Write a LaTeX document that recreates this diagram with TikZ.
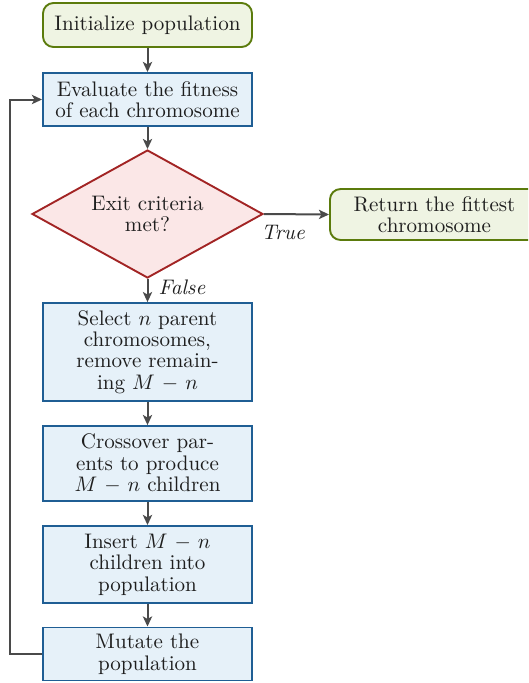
\documentclass[tikz,border=0pt]{standalone}
\usetikzlibrary{shapes.geometric,arrows.meta}
\definecolor{termline}{HTML}{5B7B0C}
\definecolor{termfill}{HTML}{EFF4E3}
\definecolor{procline}{HTML}{1F5E94}
\definecolor{procfill}{HTML}{E6F1F9}
\definecolor{decline}{HTML}{A22424}
\definecolor{decfill}{HTML}{FBE7E7}
\definecolor{arrowgray}{HTML}{4A4A4A}
\definecolor{inkgray}{HTML}{1E1E1E}
\tikzset{
  base/.style={font=\fontsize{10}{10.2}\selectfont, text=inkgray, align=center,
    line width=0.9pt, inner sep=0pt},
  term/.style={base, draw=termline, fill=termfill, rounded corners=5pt,
    minimum width=99.3pt},
  proc/.style={base, draw=procline, fill=procfill, minimum width=99.3pt},
  decision/.style={base, shape=diamond, aspect=1.8, draw=decline, fill=decfill,
    minimum width=109.7pt, minimum height=60.8pt},
  arr/.style={draw=arrowgray, line width=0.95pt,
    -{Stealth[length=4.8pt, width=4.4pt, inset=1.2pt]}},
  edgelabel/.style={font=\fontsize{10}{10}\selectfont\itshape, text=inkgray, inner sep=1pt}
}
\begin{document}
\begin{tikzpicture}[x=0.475pt, y=-0.475pt]
  \path[use as bounding box] (0,0) rectangle (528,683);
  \clip (0,0) rectangle (528,683);

  % main column
  \node[term, minimum height=20.9pt] (init) at (147.5,25) {Initialize population};
  \node[proc, minimum height=25.2pt] (eval) at (147.5,99.5)
    {Evaluate the fitness\\of each chromosome};
  \node[decision] (exit) at (147.5,214) {Exit criteria\\met?};
  \node[term, minimum height=24.2pt] (ret) at (434.5,214.5)
    {Return the fittest\\chromosome};
  \node[proc, minimum height=46.5pt] (select) at (147.5,352)
    {Select $n$ parent\\chromosomes,\\remove remain-\\ing $M$ $-$ $n$};
  \node[proc, minimum height=35.6pt] (cross) at (147.5,463.5)
    {Crossover par-\\ents to produce\\$M$ $-$ $n$ children};
  \node[proc, minimum height=36.6pt] (insert) at (147.5,564.5)
    {Insert $M$ $-$ $n$\\children into\\population};
  \node[proc, minimum height=25.2pt] (mutate) at (147.5,654)
    {Mutate the\\population};

  % connectors
  \draw[arr] (init) -- (eval);
  \draw[arr] (eval) -- (exit);
  \draw[arr] (exit.east) -- (ret.west);
  \draw[arr] (exit.south) -- (select.north);
  \draw[arr] (select) -- (cross);
  \draw[arr] (cross) -- (insert);
  \draw[arr] (insert) -- (mutate);
  \draw[arr] (mutate.west) -- ++(-32,0) |- (eval.west);

  % branch labels
  \node[edgelabel] (lbltrue) at (283,232) {True};
  \node[edgelabel] (lblfalse) at (182,287) {False};
\end{tikzpicture}
\end{document}
